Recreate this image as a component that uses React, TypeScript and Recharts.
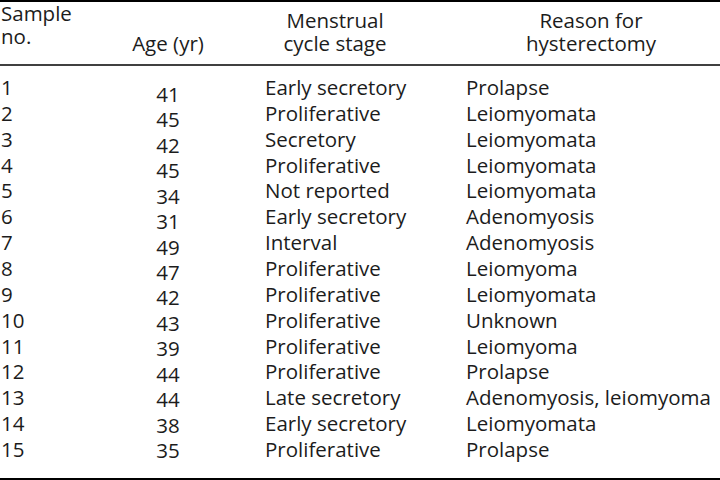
import React from 'react';
import { ScatterChart, Scatter, XAxis, YAxis, ReferenceLine } from 'recharts';

const sampleNo = [1, 2, 3, 4, 5, 6, 7, 8, 9, 10, 11, 12, 13, 14, 15];
const ages = [41, 45, 42, 45, 34, 31, 49, 47, 42, 43, 39, 44, 44, 38, 35];
const stages = [
  'Early secretory', 'Proliferative', 'Secretory', 'Proliferative', 'Not reported',
  'Early secretory', 'Interval', 'Proliferative', 'Proliferative', 'Proliferative',
  'Proliferative', 'Proliferative', 'Late secretory', 'Early secretory', 'Proliferative',
];
const reasons = [
  'Prolapse', 'Leiomyomata', 'Leiomyomata', 'Leiomyomata', 'Leiomyomata',
  'Adenomyosis', 'Adenomyosis', 'Leiomyoma', 'Leiomyomata', 'Unknown',
  'Leiomyoma', 'Prolapse', 'Adenomyosis, leiomyoma', 'Leiomyomata', 'Prolapse',
];
const headerLine1 = ['Sample', '', 'Menstrual', 'Reason for'];
const headerLine2 = ['no.', 'Age (yr)', 'cycle stage', 'hysterectomy'];

const W = 720;
const H = 480;
const FONT = '"Open Sans", Lato, sans-serif';
const INK = '#1c1c1c';
const FS = 20.5;

// column x positions (left edge or centre)
const COL = { sample: 1, age: 168, stage: 265, stageHead: 335, reason: 466, reasonHead: 591 };
const LINE_GAP = 23;
const SAMPLE_DY = -7;

const rows = sampleNo.map((n, i) => ({ row: n, age: ages[i], stage: stages[i], reason: reasons[i] }));
// header's first line, in "row" units of the main axis
const header = [{ row: -1.591, line1: headerLine1, line2: headerLine2 }];

const txt = { fontFamily: FONT, fontSize: FS, fill: INK } as const;

const RowShape = (props: any) => {
  const { cy, payload } = props;
  return (
    <g>
      <text x={COL.sample} y={cy} {...txt}>{payload.row}</text>
      <text x={COL.stage} y={cy} {...txt}>{payload.stage}</text>
      <text x={COL.reason} y={cy} {...txt}>{payload.reason}</text>
    </g>
  );
};

const AgeShape = (props: any) => {
  const { cy, payload } = props;
  return <text x={COL.age} y={cy} textAnchor="middle" {...txt}>{payload.age}</text>;
};

const TwoLine = ({ x, y, a, b, anchor }: any) => (
  <text textAnchor={anchor} {...txt}>
    <tspan x={x} y={y}>{a}</tspan>
    <tspan x={x} y={y + LINE_GAP}>{b}</tspan>
  </text>
);

const HeaderShape = (props: any) => {
  const { cy, payload } = props;
  const l1 = payload.line1;
  const l2 = payload.line2;
  return (
    <g>
      <TwoLine x={COL.sample} y={cy + SAMPLE_DY} a={l1[0]} b={l2[0]} anchor="start" />
      <text x={COL.age} y={cy + LINE_GAP} textAnchor="middle" {...txt}>{l2[1]}</text>
      <TwoLine x={COL.stageHead} y={cy} a={l1[2]} b={l2[2]} anchor="middle" />
      <TwoLine x={COL.reasonHead} y={cy} a={l1[3]} b={l2[3]} anchor="middle" />
    </g>
  );
};

export default function App() {
  return (
    <div style={{ position: 'absolute', left: 0, top: 0, width: W, height: H, background: '#fff' }}>
      <ScatterChart width={W} height={H} margin={{ top: 0, right: 0, bottom: 0, left: 0 }}>
        <XAxis type="number" dataKey="row" domain={[0, 16]} hide />
        <YAxis yAxisId="main" type="number" dataKey="row" domain={[-2.674, 15.89]} reversed hide allowDataOverflow />
        <YAxis yAxisId="age" type="number" dataKey="row" domain={[-3.011, 15.865]} reversed hide allowDataOverflow />
        <ReferenceLine yAxisId="main" y={-2.64} stroke="#000" strokeWidth={2.2} />
        <ReferenceLine yAxisId="main" y={-0.16} stroke="#000" strokeWidth={1.6} />
        <ReferenceLine yAxisId="main" y={15.855} stroke="#000" strokeWidth={2.2} />
        <Scatter yAxisId="main" data={header} shape={HeaderShape} isAnimationActive={false} />
        <Scatter yAxisId="main" data={rows} shape={RowShape} isAnimationActive={false} />
        <Scatter yAxisId="age" data={rows} shape={AgeShape} isAnimationActive={false} />
      </ScatterChart>
    </div>
  );
}
